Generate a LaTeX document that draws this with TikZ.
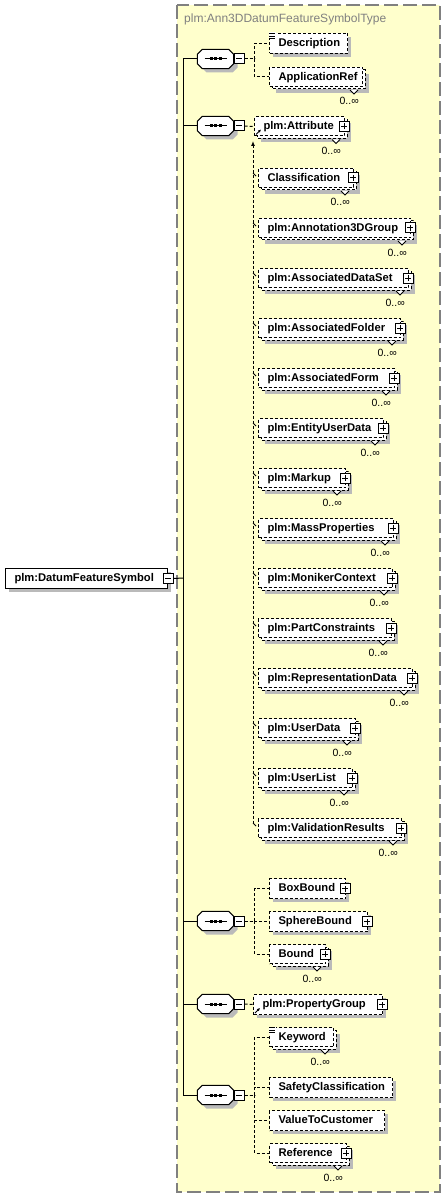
\documentclass[tikz,border=0pt]{standalone}
\usepackage{fontspec}
\setmainfont{Liberation Sans}
\usetikzlibrary{arrows.meta,positioning}
\definecolor{typefill}{RGB}{255,255,204}
\definecolor{typeline}{RGB}{128,128,128}
\definecolor{shadowgray}{RGB}{186,186,186}
\hyphenpenalty=10000
\exhyphenpenalty=10000

\begin{document}
\begin{tikzpicture}[x=1pt, y=-1pt,
  elem/.style={draw, fill=white, line width=1pt, dash pattern=on 3pt off 2pt, anchor=north west,
    font=\fontsize{11.2}{13}\selectfont\bfseries, align=left, inner xsep=9pt, inner ysep=0pt,
    text height=8.5pt, text depth=2pt, minimum height=20pt},
  many/.style={elem, minimum height=19pt},
  seq/.style={minimum width=36pt, minimum height=19pt, inner sep=0pt},
  minusbox/.style={draw, solid, fill=white, line width=1pt, minimum size=10pt, inner sep=0pt, anchor=west,
    path picture={\draw ([xshift=-3pt]path picture bounding box.center) -- ([xshift=3pt]path picture bounding box.center);}},
  plusbox/.style={draw, solid, fill=white, line width=1pt, minimum size=10pt, inner sep=0pt,
    path picture={\draw ([xshift=-3pt]path picture bounding box.center) -- ([xshift=3pt]path picture bounding box.center)
      ([yshift=-3pt]path picture bounding box.center) -- ([yshift=3pt]path picture bounding box.center);}},
  link/.style={line width=1pt},
  conn/.style={line width=1pt, dash pattern=on 3pt off 2pt},
  card/.style={font=\fontsize{10.5}{12}\selectfont, inner sep=0pt, anchor=base east},
]
\useasboundingbox (0,0) rectangle (446,1198);

% complex type frame
\draw[draw=typeline, fill=typefill, line width=1.3pt, dash pattern=on 14pt off 5pt] (177,5) rectangle (440,1192);
\node[font=\fontsize{12}{14}\selectfont, text=typeline, anchor=base west, inner sep=0pt] (typename) at (184,23) {plm:Ann3DDatumFeatureSymbolType};

% shadows: single boxes
\foreach \x/\y/\w in {5/568/162, 269/33/78, 269/878/76, 269/911/98, 253/994/129, 269/1077/123, 269/1110/115}
  \fill[shadowgray] (\x+4,\y+4) rectangle ++(\w,20);
% shadows: repeated boxes
\foreach \x/\y/\w in {269/67/93, 254/116.5/90, 258/168/95, 258/218/152, 258/268/150, 258/318/142, 258/368/136,
    258/418/125, 258/468/87, 258/518/135, 258/568/134, 258/618/133, 258/668/154, 258/718/97, 258/768/94,
    258/818/143, 269/944/56, 269/1027/64, 269/1143/77}
  \fill[shadowgray] (\x+7,\y+7) rectangle ++(\w,19);
% shadows: sequences
\foreach \y in {59,126,921,1004,1095}
  \fill[shadowgray] (206.5,\y-5.5) -- (232.5,\y-5.5) -- (237.5,\y-0.5) -- (237.5,\y+8.5) -- (232.5,\y+13.5)
    -- (206.5,\y+13.5) -- (201.5,\y+8.5) -- (201.5,\y-0.5) -- cycle;

% the element
\node[elem, solid, text width=144pt] (dfs) at (5,568) {plm:DatumFeatureSymbol};
\node[minusbox, anchor=center] (dfsm) at (dfs.east) {};

% sequences
\node[seq] (seq1) at (215.5,59) {};
\node[seq] (seq2) at (215.5,126) {};
\node[seq] (seq3) at (215.5,921) {};
\node[seq] (seq4) at (215.5,1004) {};
\node[seq] (seq5) at (215.5,1095) {};
\foreach \s in {seq1,seq2,seq3,seq4,seq5} {
  \draw[link, fill=white] ([xshift=5pt]\s.north west) -- ([xshift=-5pt]\s.north east)
    -- ([yshift=-5pt]\s.north east) -- ([yshift=5pt]\s.south east) -- ([xshift=-5pt]\s.south east)
    -- ([xshift=5pt]\s.south west) -- ([yshift=5pt]\s.south west) -- ([yshift=-5pt]\s.north west) -- cycle;
  \draw[link] ([xshift=-11pt]\s.center) -- ([xshift=11pt]\s.center);
  \foreach \d in {-4.5,0,4.5}
    \fill ([xshift=\d pt]\s.center) +(-1.5,-1.5) rectangle +(1.5,1.5);
  \node[minusbox] (\s m) at (\s.east) {};
}

% trunk
\coordinate (trunk) at (183,578);
\draw[link] (dfsm.east) -- (trunk);
\foreach \s in {seq1,seq2,seq3,seq4,seq5}
  \draw[link] (\s.west) -| (trunk);

% back boxes of repeated elements
\foreach \x/\y/\w in {269/67/93, 254/116.5/90, 258/168/95, 258/218/152, 258/268/150, 258/318/142, 258/368/136,
    258/418/125, 258/468/87, 258/518/135, 258/568/134, 258/618/133, 258/668/154, 258/718/97, 258/768/94,
    258/818/143, 269/944/56, 269/1027/64, 269/1143/77}
  \draw[conn, fill=white] (\x+3,\y+3) rectangle ++(\w,19);

% first sequence
\node[elem, text width=60pt] (desc) at (269,33) {Description};
\node[many, text width=75pt] (appref) at (269,67) {ApplicationRef};

% second sequence
\node[many, text width=72pt] (attribute) at (254,116.5) {plm:Attribute};
\node[many, text width=77pt] (classif) at (258,168) {Classification};
\node[many, text width=134pt] (annot) at (258,218) {plm:Annotation3DGroup};
\node[many, text width=132pt] (dataset) at (258,268) {plm:AssociatedDataSet};
\node[many, text width=124pt] (folder) at (258,318) {plm:AssociatedFolder};
\node[many, text width=118pt] (form) at (258,368) {plm:AssociatedForm};
\node[many, text width=107pt] (entity) at (258,418) {plm:EntityUserData};
\node[many, text width=69pt] (markup) at (258,468) {plm:Markup};
\node[many, text width=117pt] (mass) at (258,518) {plm:MassProperties};
\node[many, text width=116pt] (moniker) at (258,568) {plm:MonikerContext};
\node[many, text width=115pt] (partc) at (258,618) {plm:PartConstraints};
\node[many, text width=136pt] (repr) at (258,668) {plm:RepresentationData};
\node[many, text width=79pt] (userdata) at (258,718) {plm:UserData};
\node[many, text width=76pt] (userlist) at (258,768) {plm:UserList};
\node[many, text width=125pt] (valid) at (258,818) {plm:ValidationResults};

% third sequence
\node[elem, text width=58pt] (boxbound) at (269,878) {BoxBound};
\node[elem, text width=80pt] (sphere) at (269,911) {SphereBound};
\node[many, text width=38pt] (bound) at (269,944) {Bound};

% fourth sequence
\node[elem, text width=111pt] (propgroup) at (253,994) {plm:PropertyGroup};

% fifth sequence
\node[many, text width=46pt] (keyword) at (269,1027) {Keyword};
\node[elem, text width=105pt] (safety) at (269,1077) {SafetyClassification};
\node[elem, text width=97pt] (value) at (269,1110) {ValueToCustomer};
\node[many, text width=59pt] (reference) at (269,1143) {Reference};

% connectors
\foreach \n in {desc,appref}
  \draw[conn] (seq1m.east) -- ++(10,0) |- (\n.west);
\draw[conn] (seq2m.east) -- (attribute.west);
\coordinate (substtop) at (253,141);
\coordinate (substend) at (253,823);
\draw[conn, {Latex[length=5pt,width=4pt]}-] (substtop) -- (substend);
\foreach \n in {classif,annot,dataset,folder,form,entity,markup,mass,moniker,partc,repr,userdata,userlist,valid}
  \draw[link] ([shift={(-5,5)}]\n.north west) -- ++(3,3);
\foreach \n in {boxbound,sphere,bound}
  \draw[conn] (seq3m.east) -- ++(10,0) |- (\n.west);
\draw[conn] (seq4m.east) -- (propgroup.west);
\foreach \n in {keyword,safety,value,reference}
  \draw[conn] (seq5m.east) -- ++(10,0) |- (\n.west);

% occurrence marks
\foreach \n in {appref,attribute,classif,annot,dataset,folder,form,entity,markup,mass,moniker,partc,repr,userdata,userlist,valid,bound,keyword,reference} {
  \draw[link, fill=white] ([shift={(-13,3)}]\n.south east) -- ++(4,4) -- ++(4,-4);
  \node[card] (\n card) at ([shift={(-4,18)}]\n.south east) {0..∞};
}

% expand buttons
\foreach \n in {attribute,classif,annot,dataset,folder,form,entity,markup,mass,moniker,partc,repr,userdata,userlist,valid,boxbound,sphere,bound,propgroup,reference}
  \node[plusbox] (\n plus) at ([xshift=-1pt]\n.east) {};

% documentation and reference icons
\foreach \n in {desc,keyword} {
  \fill[white] ([shift={(-0.5,-0.5)}]\n.north west) rectangle ++(7,7);
  \foreach \k in {0.5,3,5.5}
    \draw[line width=0.9pt] ([shift={(0,\k)}]\n.north west) -- ++(6,0);
}
\foreach \n in {attribute,propgroup}
  \draw[link, -{Latex[length=3pt,width=3pt]}] ([shift={(2,-2)}]\n.south west) -- ++(5,-5);
\end{tikzpicture}
\end{document}
